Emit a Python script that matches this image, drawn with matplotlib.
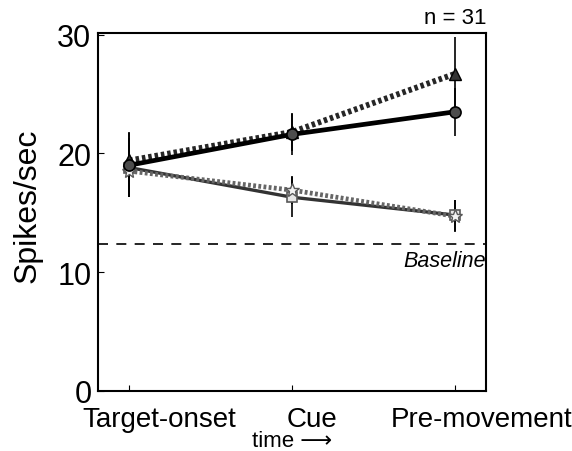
import matplotlib
matplotlib.use("Agg")
import matplotlib.pyplot as plt
import matplotlib.transforms as mtransforms
import numpy as np

plt.rcParams['font.family'] = ['Liberation Sans', 'DejaVu Sans']

# data
epochs = ['Target-onset', 'Cue', 'Pre-movement']
circle_vals = [19.0, 21.6, 23.5]
circle_err = [2.7, 1.7, 2.0]
triangle_vals = [19.4, 21.8, 26.7]
triangle_err = [2.4, 1.6, 3.1]
square_vals = [18.8, 16.3, 14.8]
square_err = [2.5, 1.7, 1.3]
star_vals = [18.5, 16.9, 14.7]
star_err = [2.2, 1.2, 1.35]
baseline = 12.35
n_cells = 31

x = np.arange(len(epochs))

fig = plt.figure(figsize=(5.72, 4.52), dpi=100)
ax = fig.add_axes([0.172, 0.133, 0.678, 0.791])

# error bars (thin black verticals)
for vals, err in [(circle_vals, circle_err), (triangle_vals, triangle_err),
                  (square_vals, square_err), (star_vals, star_err)]:
    ax.errorbar(x, vals, yerr=err, fmt='none', ecolor='black', elinewidth=1.2,
                capsize=0, zorder=2)

ax.plot(x, square_vals, color='0.2', lw=2.4, marker='s', ms=7,
        mfc='0.9', mec='0.35', mew=1.2, zorder=3)
ax.plot(x, star_vals, color='0.4', lw=3.4, ls=(0, (0.6, 0.5)), marker='*', ms=10,
        mfc='0.95', mec='0.35', mew=1.0, zorder=3)
ax.plot(x, triangle_vals, color='0.15', lw=4.2, ls=(0, (0.6, 0.5)), marker='^', ms=8,
        mfc='0.2', mec='black', zorder=4)
ax.plot(x, circle_vals, color='black', lw=3.4, marker='o', ms=8,
        mfc='0.3', mec='black', mew=1.2, zorder=5)

ax.axhline(baseline, color='black', lw=1.2, ls=(0, (6, 5)), zorder=1)
ax.text(1.0, baseline - 0.5, 'Baseline', transform=ax.get_yaxis_transform(),
        ha='right', va='top', fontsize=15.5, style='italic')

ax.set_xlim(-0.19, 2.19)
ax.set_ylim(0, 30.1)
ax.set_yticks([0, 10, 20, 30])
ax.set_xticks(x)
ax.set_xticklabels([])
ax.tick_params(axis='x', direction='in', length=4)
ax.tick_params(axis='y', direction='in', length=4, pad=5, labelsize=22)

# epoch labels sit a little right of their ticks in the original
xtrans = ax.get_xaxis_transform()
for xi, lab, dx in zip(x, epochs, [30, 20, 26]):
    tr = xtrans + mtransforms.ScaledTranslation(dx / 100, 0, fig.dpi_scale_trans)
    ax.text(xi, -0.042, lab, transform=tr, ha='center', va='top', fontsize=20)

for s in ax.spines.values():
    s.set_linewidth(1.5)

ax.set_ylabel('Spikes/sec', fontsize=23)
ax.yaxis.set_label_coords(-0.145, 0.52)
ax.text(0.5, -0.138, 'time \u27f6', transform=ax.transAxes, ha='center',
        va='center', fontsize=16)

ax.text(1.0, 1.015, f'n = {n_cells}', transform=ax.transAxes, ha='right',
        va='bottom', fontsize=16)

fig.savefig('out.png', dpi=100)
